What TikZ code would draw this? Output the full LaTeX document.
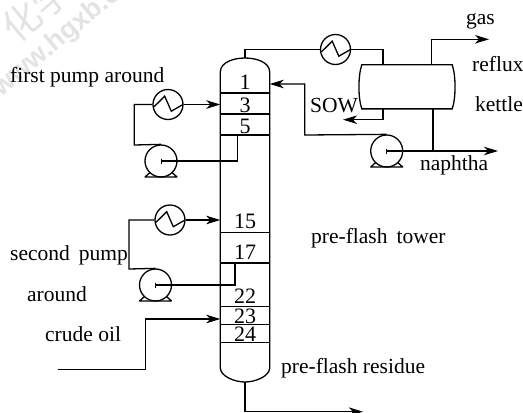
\documentclass[tikz,border=0pt]{standalone}
\usepackage{fontspec}
\setmainfont{Liberation Serif}
\newfontfamily\markfont{Liberation Sans}
\newfontfamily\cjkfont{Noto Sans CJK SC}
\usepackage{tikz}
\usetikzlibrary{arrows.meta, positioning, calc}
\tikzset{
    pipe/.style={line width=1.3pt},
    flow/.style={pipe, -{Stealth[length=14pt, width=8.5pt, inset=4pt]}},
    hx/.style={draw, circle, line width=1.3pt, inner sep=0pt, minimum size=30pt, path picture={
        \draw[line width=1.3pt] ($(path picture bounding box.center)+(-14,2.3)$) -- ++(10.7,-10.6) -- ++(6.6,15) -- ++(11.7,-6.7);}},
    pump/.style={draw, circle, line width=1.3pt, inner sep=0pt, minimum size=32pt},
    lbl/.style={inner sep=0pt, font=\fontsize{21.5}{24}\selectfont},
    tray/.style={lbl, font=\fontsize{22}{24}\selectfont},
    stamp/.style={inner sep=0pt, text=gray!22, rotate=40}
}
\begin{document}
\begin{tikzpicture}[x=1pt, y=-1pt]
    \useasboundingbox (0,0) rectangle (523,413);
    \node[stamp, font=\markfont\bfseries\fontsize{27}{28}\selectfont, anchor=west] (markurl) at (-3,92) {www.hgxb.c};
    \node[stamp, font=\cjkfont\fontsize{38}{40}\selectfont] (markname) at (36,9) {化学};
    % tower
    \node[minimum width=49pt, minimum height=324pt, inner sep=0pt] (tower) at (245,220) {};
    \coordinate (towertop) at (245,58);
    \coordinate (towerbot) at (245,382);
    \draw[pipe] (tower.west |- 0,368) -- (tower.west |- 0,72) .. controls (220.5,62) and (234,58) .. (towertop)
        .. controls (256,58) and (269.5,62) .. (tower.east |- 0,72) -- (tower.east |- 0,368)
        .. controls (269.5,376) and (256,382) .. (towerbot) .. controls (234,382) and (220.5,376) .. cycle;
    \foreach \y in {93,114,135,232.7,263,306.7,324.7,342.3}
        \draw[pipe] (tower.west |- 0,\y) -- (tower.east |- 0,\y);
    \node[tray] (plate1) at (245,82) {1};
    \node[tray] (plate3) at (245,105) {3};
    \node[tray] (plate5) at (245,126) {5};
    \node[tray] (plate15) at (245,221.5) {15};
    \node[tray] (plate17) at (245,252.5) {17};
    \node[tray] (plate22) at (245,296) {22};
    \node[tray] (plate23) at (245,316) {23};
    \node[tray] (plate24) at (245,334) {24};
    % equipment
    \node[hx] (hxtop) at (335.5,49.5) {};
    \node[hx] (hxa) at (168,104.5) {};
    \node[hx] (hxb) at (170,220) {};
    \node[pump] (pumpa) at (161,161) {};
    \node[pump] (pumpb) at (155.5,285) {};
    \node[pump] (pumpc) at (386.7,151) {};
    \foreach \p in {pumpa, pumpb, pumpc} {
        \draw[pipe, line join=round] ($(\p)+(-11,11.5)$) -- ($(\p)+(-16,16)$) -- ($(\p)+(16,16)$) -- ($(\p)+(11,11.5)$);
        \draw[line width=1pt] ($(\p)+(0,-2.5)$) -- ($(\p)+(0,2.5)$);
    }
    \node[minimum width=90pt, minimum height=43.7pt, inner sep=0pt] (kettle) at (407,86.8) {};
    \draw[pipe] (kettle.north west) -- (kettle.north east) .. controls (456,76) and (456,98) .. (kettle.south east)
        -- (kettle.south west) .. controls (358,98) and (358,76) .. cycle;
    % overhead and reflux
    \draw[pipe] (towertop) -- (towertop |- hxtop) -- (hxtop.west);
    \draw[pipe] (hxtop.east) -| (383,65);
    \draw[flow] (431.7,65) |- (489,39.3) coordinate (gasend);
    \draw[flow] (383,108.5) |- (343,119.7) coordinate (sowend);
    \draw[pipe] (433,108.5) -- (433,151);
    \draw[flow] (pumpc.center) -- (498,151) coordinate (naphend);
    \draw[flow] (pumpc.north) -- (304.7,135) -- (304.7,84) -- (tower.east |- 0,84);
    % pump arounds
    \draw[flow] (hxa.east) -- (tower.west |- hxa);
    \draw[pipe] (hxa.west) -- (134.3,104.5) -- (134.3,145) -- (pumpa.north);
    \draw[pipe] (pumpa.center) -- (237.7,161) -- (237.7,135);
    \draw[flow] (hxb.east) -- (tower.west |- hxb);
    \draw[pipe] (hxb.west) -- (129,220) -- (129,269) -- (pumpb.north);
    \draw[pipe] (pumpb.center) -- (235,285) -- (235,263);
    % feed and residue
    \coordinate (feed) at (57.7,369.7);
    \draw[flow] (feed) -- (145.3,369.7) -- (145.3,319) -- (tower.west |- 0,319);
    \draw[flow] (towerbot) -- (245,411.7) -- (363,411.7);
    % labels
    \node[lbl, anchor=west] (firstpa) at (10,77) {first pump around};
    \node[lbl, anchor=west] (secondpa) at (10,255) {second\, pump};
    \node[lbl, anchor=west] (aroundpa) at (27,294) {around};
    \node[lbl, anchor=west] (crude) at (45,334) {crude oil};
    \node[lbl, anchor=west] (sow) at (310,106) {SOW};
    \node[lbl, anchor=west] (gas) at (466,21) {gas};
    \node[lbl, anchor=west] (reflux) at (472,64) {reflux};
    \node[lbl, anchor=west] (kettlelbl) at (475,104) {kettle};
    \node[lbl, anchor=west] (naphtha) at (420,165) {naphtha};
    \node[lbl, anchor=west] (flashtower) at (311,238) {pre-flash\, tower};
    \node[lbl, anchor=west] (residue) at (281,368) {pre-flash residue};
\end{tikzpicture}
\end{document}
